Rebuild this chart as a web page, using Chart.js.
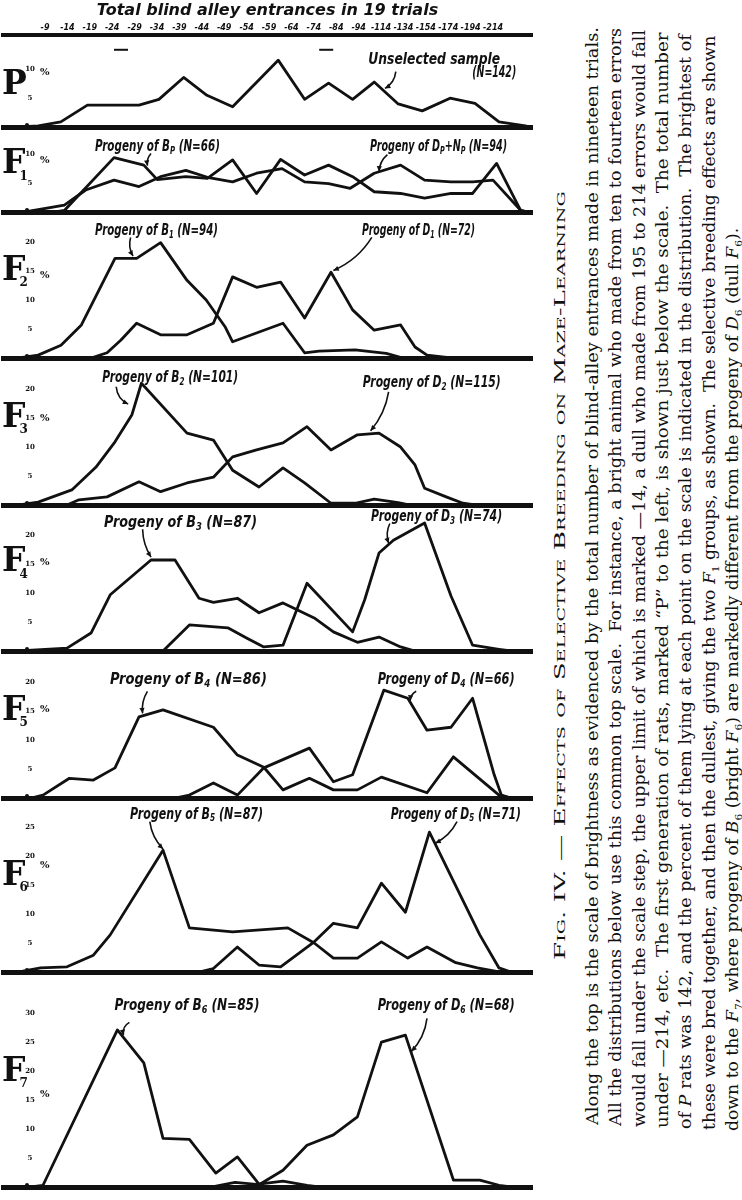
<!DOCTYPE html>
<html><head><meta charset="utf-8">
<script src="https://cdn.jsdelivr.net/npm/chart.js@4.4.1/dist/chart.umd.min.js"></script>
<style>
html,body{margin:0;padding:0;background:#fff;}
#page{position:relative;width:742px;height:1200px;overflow:hidden;background:#fff;}
canvas.panel{position:absolute;left:0;}
.cap{position:absolute;left:0;top:0;font-family:'DejaVu Serif',serif;color:#111;white-space:nowrap;line-height:20px;transform-origin:0 0;}
.cap sub{font-size:0.62em;line-height:0;}
</style></head><body><div id="page">
<div class="cap" id="capTitle" style="font-size:15px;font-variant:small-caps;">Fig. IV. — Effects of Selective Breeding on Maze-Learning</div>
<div class="cap para" style="font-size:16px;">Along the top is the scale of brightness as evidenced by the total number of blind-alley entrances made in nineteen trials.</div>
<div class="cap para" style="font-size:16px;">All the distributions below use this common top scale.&nbsp; For instance, a bright animal who made from ten to fourteen errors</div>
<div class="cap para" style="font-size:16px;">would fall under the scale step, the upper limit of which is marked —14, a dull who made from 195 to 214 errors would fall</div>
<div class="cap para" style="font-size:16px;">under —214, etc.&nbsp; The first generation of rats, marked “P” to the left, is shown just below the scale.&nbsp; The total number</div>
<div class="cap para" style="font-size:16px;">of <i>P</i> rats was 142, and the percent of them lying at each point on the scale is indicated in the distribution.&nbsp; The brightest of</div>
<div class="cap para" style="font-size:16px;">these were bred together, and then the dullest, giving the two <i>F</i><sub>1</sub> groups, as shown.&nbsp; The selective breeding effects are shown</div>
<div class="cap para" style="font-size:16px;">down to the <i>F</i><sub>7</sub>, where progeny of <i>B</i><sub>6</sub> (bright <i>F</i><sub>6</sub>) are markedly different from the progeny of <i>D</i><sub>6</sub> (dull <i>F</i><sub>6</sub>).</div>
</div>
<script>
// ---------- DATA ----------
// top scale: upper limit of each step of total blind-alley entrances
const scaleLabels = ['-9','-14','-19','-24','-29','-34','-39','-44','-49','-54','-59','-64','-74','-84','-94','-114','-134','-154','-174','-194','-214'];
// series: [scale step position, percent]
const pSample  = [[-1,0],[-0.2,0.2],[0.74,0.9],[1.85,3.8],[4,3.8],[4.83,4.8],[5.86,8.6],[6.83,5.5],[7.9,3.5],[9.8,11.6],[10.9,4.8],[11.9,7.6],[12.9,4.8],[13.8,7.8],[14.8,4.0],[15.8,2.8],[16.96,5.0],[18,4.1],[19,0.9],[20.1,0.2],[20.3,0]];
const f1Bright = [[0.5,0],[0.9,0.3],[2.96,9.4],[4.2,8.1],[4.76,5.6],[5.95,6.1],[6.85,5.8],[7.9,9.0],[8.9,3.2],[9.9,9.1],[10.9,6.4],[11.9,8.1],[12.9,6.1],[13.8,3.5],[14.9,3.2],[15.9,2.4],[17,3.2],[17.9,3.2],[18.9,8.4],[19.9,0.3],[20.2,0]];
const f1Dull   = [[-0.75,0],[0.89,1.2],[1.78,3.8],[2.96,5.5],[4,4.4],[4.9,6.1],[5.95,7.2],[6.85,6.0],[7.9,5.2],[8.9,6.7],[9.96,7.5],[10.9,5.2],[11.9,4.9],[12.8,4.1],[13.8,6.7],[14.9,8.1],[15.9,5.5],[17,5.2],[17.9,5.2],[18.75,5.5],[19.9,0.3],[20.2,0]];
const f2Bright = [[-1,0],[-0.2,0.5],[0.75,2.2],[1.6,5.7],[3,17.2],[3.9,17.2],[4.9,19.9],[6,13.4],[6.8,10.0],[7.6,5.3],[7.9,2.8],[10,6.0],[10.9,0.9],[11.5,1.2],[13,1.4],[14.3,0.8],[15,0]];
const f2Dull   = [[2,0],[2.67,0.9],[3.25,3.1],[3.9,6],[4.9,4],[6,4],[7.1,6],[7.9,14.0],[8.9,12.2],[9.9,13.1],[10.9,6.9],[12,14.8],[12.9,8.3],[13.8,4.8],[14.9,5.7],[15.5,1.9],[16,0.5],[17,0]];
const f3Bright = [[-1,0],[-0.2,0.5],[1.2,2.6],[2.2,6.5],[3,10.9],[3.7,15.5],[4.1,21.0],[6,12.4],[7.1,11.2],[7.9,6.0],[9,3.1],[10,6.4],[10.9,3.8],[12,0.3],[13,0.3],[13.8,1.0],[14.8,0.4],[15.3,0]];
const f3Dull   = [[1,0],[1.5,0.9],[2.67,1.4],[4,4.0],[4.9,2.3],[6,3.8],[7.1,4.8],[7.9,8.3],[8.9,9.5],[10,10.7],[11,13.5],[12,9.5],[13.1,12.1],[14,12.4],[14.9,10.0],[15.5,6.9],[15.9,2.9],[16.8,1.4],[17.5,0.3],[18,0]];
const f4Bright = [[-1,0],[1,0.5],[2,3.1],[2.8,9.7],[4.5,15.7],[5.5,15.7],[6.5,9.1],[7.1,8.4],[8.1,9.1],[9,6.6],[10,8.3],[11.3,5.7],[12.1,3.3],[13.1,1.5],[14,2.4],[14.9,0.7],[15.5,0]];
const f4Dull   = [[5,0],[6.1,4.5],[7.7,4.0],[8.5,2.2],[9.2,0.7],[10,1.0],[11,11.7],[12.9,3.3],[13.4,8.8],[14,16.9],[14.6,19.1],[15.9,22.1],[17,9.5],[17.9,1.0],[19,0.3],[19.5,0]];
const f5Bright = [[-0.5,0],[0,0.5],[1.1,3.4],[2.1,3.1],[3,5.2],[4,14.0],[5,15.2],[7.1,12.2],[8.1,7.4],[9.2,5.3],[10,1.4],[11.1,3.4],[12.1,1.4],[13.1,1.4],[14.1,3.6],[16,0.9],[17.1,7.1],[19,0.5],[19.5,0]];
const f5Dull   = [[5.5,0],[6.1,0.5],[7.1,2.6],[8.1,0.5],[9.2,5.2],[11.1,8.6],[12.1,2.8],[12.9,4.0],[14.2,18.6],[15.2,17.2],[16,11.7],[17,12.2],[17.9,17.2],[18.8,4.0],[19.1,0.5],[19.5,0]];
const f6Bright = [[-1,0],[-0.1,0.7],[1,0.9],[2.1,2.9],[2.8,6.4],[5,21.0],[6.1,7.6],[7.9,6.9],[10.2,7.6],[11.3,5.0],[12.1,2.4],[13.1,2.4],[14.1,5.2],[15.2,2.4],[16,4.3],[17.2,1.6],[18.1,0.7],[19,0]];
const f6Dull   = [[6.5,0],[7.1,0.6],[8.1,4.3],[9,1.2],[9.9,0.9],[11.3,5.2],[12.1,8.4],[13.1,7.6],[14.1,15.3],[15.1,10.3],[16.1,24.1],[18.2,6.4],[19,0.7],[19.5,0]];
const f7Bright = [[-0.5,0],[0,0.3],[3.1,27.1],[4.2,21.4],[5,8.4],[6.1,8.2],[7.2,2.4],[8.1,5.2],[9,0.5],[10,1.0],[11,0.3],[11.5,0]];
const f7Dull   = [[7,0],[8,0.8],[9,0.4],[10,2.9],[11,7.2],[12.1,9.0],[13.1,12.1],[14.1,25.0],[15.1,26.2],[17.1,1.2],[18.2,1.2],[19,0.3],[19.5,0]];
const selectionMarks = [3.25, 11.8];

// ---------- LAYOUT ----------
const INK = '#111';
const HAND = "'Liberation Sans Narrow','DejaVu Sans Condensed','Liberation Sans',sans-serif";
const panels = [
 {top:0,   h:131, yMax:16.0, ticks:[5,10], letter:'P', sub:'', letterAt:7.2, pctAt:9.4, series:[pSample], top_axis:true, notes:[
   {text:'Unselected sample', at:[16.3,11.6], w:132, from:[14.7,9.6], to:[14.25,6.7], bend:-5},
   {text:'(N=142)', at:[18.8,9.3], w:44}]},
 {top:131, h:85,  yMax:14.0, ticks:[5,10], letter:'F', sub:'1', letterAt:8.2, pctAt:8.9, series:[f1Bright,f1Dull], notes:[
   {text:'Progeny of B_{P} (N=66)', at:[4.77,11.2], w:125, from:[4.5,10.1], to:[4.35,8.0], bend:3},
   {text:'Progeny of D_{P}+N_{P} (N=94)', at:[16.48,11.2], w:137, from:[14.35,9.9], to:[14.0,7.0], bend:4}]},
 {top:216, h:146, yMax:24.5, ticks:[5,10,15,20], letter:'F', sub:'2', letterAt:15.0, pctAt:14.3, series:[f2Bright,f2Dull], notes:[
   {text:'Progeny of B_{1} (N=94)', at:[4.73,21.9], w:123, from:[3.65,20.8], to:[3.75,17.6], bend:4},
   {text:'Progeny of D_{1} (N=72)', at:[15.65,21.9], w:113, from:[13.7,20.8], to:[12.1,15.1], bend:-8}]},
 {top:362, h:147, yMax:24.66, ticks:[5,10,15,20], letter:'F', sub:'3', letterAt:15.0, pctAt:15.0, series:[f3Bright,f3Dull], notes:[
   {text:'Progeny of B_{2} (N=101)', at:[5.3,21.9], w:136, from:[3.05,20.4], to:[3.55,17.4], bend:6},
   {text:'Progeny of D_{2} (N=115)', at:[16.2,21.0], w:138, from:[14.4,19.5], to:[13.65,12.8], bend:-6}]},
 {top:509, h:146, yMax:24.5, ticks:[5,10,15,20], letter:'F', sub:'4', letterAt:15.2, pctAt:15.3, series:[f4Bright,f4Dull], notes:[
   {text:'Progeny of B_{3} (N=87)', at:[5.73,22.1], w:153, from:[4.15,21.0], to:[4.5,16.2], bend:4},
   {text:'Progeny of D_{3} (N=74)', at:[16.4,23.1], w:131, from:[14.45,22.0], to:[14.4,18.6], bend:4}]},
 {top:655, h:147, yMax:24.66, ticks:[5,10,15,20], letter:'F', sub:'5', letterAt:15.0, pctAt:15.2, series:[f5Bright,f5Dull], notes:[
   {text:'Progeny of B_{4} (N=86)', at:[6.06,20.3], w:157, from:[4.35,18.4], to:[4.15,14.6], bend:4},
   {text:'Progeny of D_{4} (N=66)', at:[16.8,20.3], w:137, from:[15.55,18.4], to:[15.3,16.8], bend:3}]},
 {top:802, h:174, yMax:29.3, ticks:[5,10,15,20,25], letter:'F', sub:'6', letterAt:16.5, pctAt:18.4, series:[f6Bright,f6Dull], notes:[
   {text:'Progeny of B_{5} (N=87)', at:[6.4,27.1], w:133, from:[4.45,25.9], to:[5.0,21.2], bend:5},
   {text:'Progeny of D_{5} (N=71)', at:[17.2,27.1], w:130, from:[17.25,25.9], to:[16.35,22.2], bend:-5}]},
 {top:976, h:215, yMax:36.4, ticks:[5,10,15,20,25,30], letter:'F', sub:'7', letterAt:19.8, pctAt:15.9, series:[f7Bright,f7Dull], notes:[
   {text:'Progeny of B_{6} (N=85)', at:[6.0,31.2], w:145, from:[3.6,28.4], to:[3.35,26.2], bend:5},
   {text:'Progeny of D_{6} (N=68)', at:[16.8,31.2], w:137, from:[16.0,29.1], to:[15.35,23.4], bend:-6}]}
];

function richParts(str){
  const parts=[]; const re=/_\{([^}]*)\}/g; let last=0, m;
  while((m=re.exec(str))){ if(m.index>last) parts.push({t:str.slice(last,m.index),sub:false}); parts.push({t:m[1],sub:true}); last=re.lastIndex; }
  if(last<str.length) parts.push({t:str.slice(last),sub:false});
  return parts;
}
function drawRich(ctx,str,cx,cy,w){
  const parts=richParts(str);
  const fm="bold italic 15px "+HAND, fs="bold italic 10px "+HAND;
  let total=0; parts.forEach(p=>{ctx.font=p.sub?fs:fm; p.w=ctx.measureText(p.t).width; total+=p.w;});
  const k = w ? w/total : 1;
  ctx.save(); ctx.translate(cx-w/2, cy); ctx.scale(k,1);
  ctx.textBaseline='middle'; ctx.textAlign='left';
  let xx=0; parts.forEach(p=>{ctx.font=p.sub?fs:fm; ctx.fillText(p.t,xx,p.sub?4:0); xx+=p.w;});
  ctx.restore();
}
function drawArrow(ctx,x1,y1,x2,y2,bend){
  const mx=(x1+x2)/2, my=(y1+y2)/2, dx=x2-x1, dy=y2-y1, len=Math.hypot(dx,dy)||1;
  const qx=mx - dy/len*bend, qy=my + dx/len*bend;
  ctx.beginPath(); ctx.moveTo(x1,y1); ctx.quadraticCurveTo(qx,qy,x2,y2); ctx.lineWidth=1.6; ctx.stroke();
  const a=Math.atan2(y2-qy,x2-qx), h=6;
  ctx.beginPath(); ctx.moveTo(x2,y2);
  ctx.lineTo(x2-h*Math.cos(a-0.45), y2-h*Math.sin(a-0.45));
  ctx.lineTo(x2-h*Math.cos(a+0.45), y2-h*Math.sin(a+0.45));
  ctx.closePath(); ctx.fill();
}
function makeDecor(p){
  return {id:'decor', afterDraw(chart){
    const ctx=chart.ctx, x=chart.scales.x, y=chart.scales.y;
    ctx.save(); ctx.fillStyle=INK; ctx.strokeStyle=INK;
    ctx.font="bold 7px 'DejaVu Serif'"; ctx.textAlign='center'; ctx.textBaseline='middle';
    p.ticks.forEach(t=>ctx.fillText(String(t), 30, y.getPixelForValue(t)));
    ctx.beginPath(); ctx.arc(27, y.getPixelForValue(0)-2, 2, 0, Math.PI*2); ctx.fill();
    const ly=y.getPixelForValue(p.letterAt);
    ctx.font="bold 33px 'DejaVu Serif'"; ctx.textAlign='left';
    ctx.fillText(p.letter, 2, ly);
    const lw=ctx.measureText(p.letter).width;
    if(p.sub){ ctx.font="bold 12px 'DejaVu Serif'"; ctx.fillText(p.sub, 2+lw-6, ly+12); }
    ctx.font="bold 10px 'DejaVu Serif'"; ctx.fillText('%', 40, y.getPixelForValue(p.pctAt));
    p.notes.forEach(n=>{
      drawRich(ctx, n.text, x.getPixelForValue(n.at[0]), y.getPixelForValue(n.at[1]), n.w);
      if(n.from) drawArrow(ctx, x.getPixelForValue(n.from[0]), y.getPixelForValue(n.from[1]), x.getPixelForValue(n.to[0]), y.getPixelForValue(n.to[1]), n.bend);
    });
    if(p.top_axis){
      ctx.lineWidth=2;
      selectionMarks.forEach(m=>{ const mx=x.getPixelForValue(m), my=y.getPixelForValue(13.4);
        ctx.beginPath(); ctx.moveTo(mx-7,my); ctx.lineTo(mx+7,my); ctx.stroke(); });
    }
    ctx.restore();
  }};
}

const page=document.getElementById('page');
panels.forEach(p=>{
  const cv=document.createElement('canvas');
  cv.className='panel'; cv.width=536; cv.height=p.h; cv.style.top=p.top+'px';
  page.appendChild(cv);
  const scales={
    x:{type:'linear', min:-1.667, max:20.375, position:'bottom',
       ticks:{display:false}, grid:{display:false, drawTicks:false}, border:{display:true,color:INK,width:5}},
    y:{type:'linear', min:0, max:p.yMax, display:false}
  };
  if(p.top_axis){
    scales.xTop={type:'linear', position:'top', min:-1.875, max:21.74,
      afterBuildTicks:s=>{ s.ticks=scaleLabels.map((_,i)=>({value:i})); },
      ticks:{callback:(v,i)=>scaleLabels[i], autoSkip:false, maxRotation:0, minRotation:0, padding:2, color:INK,
             font:{size:8, weight:'bold', style:'italic', family:"'DejaVu Sans',sans-serif"}},
      grid:{display:false, drawTicks:false}, border:{display:true,color:INK,width:4}};
  }
  new Chart(cv,{
    type:'line',
    data:{datasets:p.series.map(s=>({data:s.map(([a,b])=>({x:a,y:b})), xAxisID:'x', yAxisID:'y',
      borderColor:INK, borderWidth:2.8, pointRadius:0, tension:0, fill:false, borderJoinStyle:'round', borderCapStyle:'round'}))},
    options:{responsive:false, animation:false, devicePixelRatio:1,
      layout:{padding:{left:3,right:4,top:0,bottom:4}},
      plugins:{legend:{display:false}, tooltip:{enabled:false},
        title:{display:!!p.top_axis, text:'Total blind alley entrances in 19 trials', color:INK,
               font:{size:16, weight:'bold', style:'italic', family:"'DejaVu Sans',sans-serif"}, padding:{top:1,bottom:1}}},
      scales},
    plugins:[makeDecor(p)]
  });
});

// ---------- CAPTION (rotated text) ----------
function place(el, xc, y0, y1, sOverride){
  const w=el.offsetWidth;
  const s = sOverride || ((y0-y1)/w);
  el.style.transform=`translate(${xc}px,${y0}px) rotate(-90deg) scaleX(${s}) translateY(-50%)`;
  return s;
}
place(document.getElementById('capTitle'), 560, 960, 192);
const paraX=[593,616,640,663,686,710,733];
const paraY0=[1125,1126,1127,1128,1129,1130,1131];
const paraY1=[27,28,30,32,34,36,228];
const paras=[...document.querySelectorAll('.para')];
paras.forEach((el,i)=>place(el, paraX[i], paraY0[i], paraY1[i]));
</script>
</body></html>
